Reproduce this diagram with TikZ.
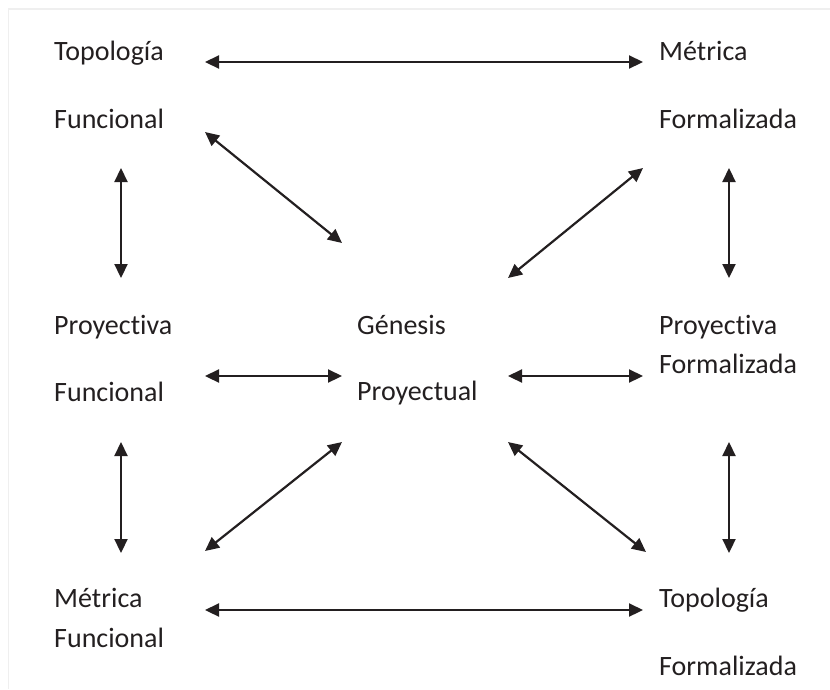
\documentclass[tikz,border=0pt]{standalone}
\usepackage{fontspec}
\setmainfont{Carlito}[Ligatures={NoCommon,NoRare,NoDiscretionary}]
\usetikzlibrary{arrows.meta}
\definecolor{ink}{HTML}{231F20}
\definecolor{frame}{HTML}{EFEFEF}
\tikzset{
  lbl/.style={anchor=base west, inner sep=0pt, text=ink, font=\fontsize{28}{32}\selectfont},
  link/.style={draw=ink, line width=2.2pt, {Triangle[length=14pt,width=13pt]}-{Triangle[length=14pt,width=13pt]}}
}
\begin{document}
\begin{tikzpicture}[x=1pt,y=-1pt]
\useasboundingbox (0,0) rectangle (830,689);
\draw[frame, line width=1.5pt] (8.5,689) -- (8.5,9) -- (830,9);
% labels
\node[lbl] (tf1) at (54,60) {Topología};
\node[lbl] (tf2) at (54,128) {Funcional};
\node[lbl] (mf1) at (659,60) {Métrica};
\node[lbl] (mf2) at (659,128) {Formalizada};
\node[lbl] (pf1) at (54,334) {Proyectiva};
\node[lbl] (pf2) at (54,401) {Funcional};
\node[lbl] (gp1) at (357,334) {Génesis};
\node[lbl] (gp2) at (357,400) {Proyectual};
\node[lbl] (pr1) at (659,334) {Proyectiva};
\node[lbl] (pr2) at (659,373) {Formalizada};
\node[lbl] (mb1) at (54,607) {Métrica};
\node[lbl] (mb2) at (54,647) {Funcional};
\node[lbl] (tb1) at (659,607) {Topología};
\node[lbl] (tb2) at (659,675) {Formalizada};
% arrow end points
\coordinate (a1) at (205,62);  \coordinate (b1) at (643,62);
\coordinate (a2) at (205,132); \coordinate (b2) at (342,243);
\coordinate (a3) at (121,168); \coordinate (b3) at (121,278);
\coordinate (a4) at (643,168); \coordinate (b4) at (508,278);
\coordinate (a5) at (729,168); \coordinate (b5) at (729,278);
\coordinate (a6) at (205,376); \coordinate (b6) at (342,376);
\coordinate (a7) at (508,376); \coordinate (b7) at (643,376);
\coordinate (a8) at (121,442); \coordinate (b8) at (121,553);
\coordinate (a9) at (342,442); \coordinate (b9) at (205,551);
\coordinate (a10) at (508,442); \coordinate (b10) at (646,552);
\coordinate (a11) at (729,442); \coordinate (b11) at (729,553);
\coordinate (a12) at (205,610); \coordinate (b12) at (643,610);
\foreach \i in {1,...,12} { \draw[link] (a\i) -- (b\i); }
\end{tikzpicture}
\end{document}
